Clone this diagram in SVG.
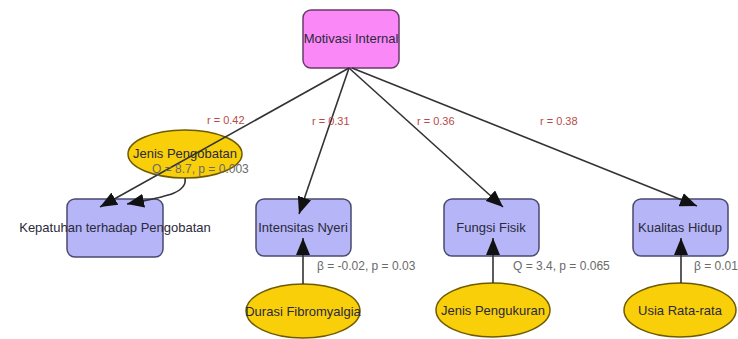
<svg xmlns="http://www.w3.org/2000/svg" width="738" height="339" viewBox="0 0 738 339">
<style>
.box{fill:#b5b5f7;stroke:#4a4a70;stroke-width:1.5}
.top{fill:#fb88f7;stroke:#6a3a6a;stroke-width:1.5}
.ell{fill:#f9cf0a;stroke:#6e5a00;stroke-width:1.5}
.t{font-family:"Liberation Sans",Arial,sans-serif;font-size:13px;fill:#2a2a3a}
.r{font-family:"Liberation Sans",Arial,sans-serif;font-size:11px;fill:#b84a4a}
.s{font-family:"Liberation Sans",Arial,sans-serif;font-size:12px;fill:#6a6a6a}
.c{fill:none;stroke:#333;stroke-width:1.6}
</style>
<defs>
<marker id="ah" markerUnits="userSpaceOnUse" markerWidth="18" markerHeight="14" viewBox="0 0 18 14" refX="17" refY="7" orient="auto">
<path d="M0,0 L17,7 L0,14 Z" fill="#111"/>
</marker>
</defs>
<rect width="738" height="339" fill="#fff"/>
<g id="motivasi">
<rect class="top" x="303" y="10" width="96" height="58" rx="8"/>
<text class="t" x="351" y="43" text-anchor="middle">Motivasi Internal</text>
</g>
<g id="jenis-pengobatan">
<ellipse class="ell" cx="185" cy="154" rx="57" ry="24"/>
<text class="t" x="185" y="158" text-anchor="middle">Jenis Pengobatan</text>
</g>
<g id="kepatuhan">
<rect class="box" x="67" y="199" width="96" height="58" rx="8"/>
<text class="t" x="115" y="232" text-anchor="middle">Kepatuhan terhadap Pengobatan</text>
</g>
<g id="intensitas">
<rect class="box" x="256" y="199" width="95" height="57" rx="8"/>
<text class="t" x="303" y="232" text-anchor="middle">Intensitas Nyeri</text>
</g>
<g id="fungsi">
<rect class="box" x="444" y="199" width="95" height="57" rx="8"/>
<text class="t" x="491" y="232" text-anchor="middle">Fungsi Fisik</text>
</g>
<g id="kualitas">
<rect class="box" x="633" y="199" width="95" height="57" rx="8"/>
<text class="t" x="680" y="232" text-anchor="middle">Kualitas Hidup</text>
</g>
<g id="durasi">
<ellipse class="ell" cx="303" cy="311" rx="57" ry="27"/>
<text class="t" x="303" y="316" text-anchor="middle">Durasi Fibromyalgia</text>
</g>
<g id="jenis-pengukuran">
<ellipse class="ell" cx="493" cy="310" rx="57" ry="27"/>
<text class="t" x="493" y="315" text-anchor="middle">Jenis Pengukuran</text>
</g>
<g id="usia">
<ellipse class="ell" cx="680" cy="310" rx="56" ry="27"/>
<text class="t" x="680" y="315" text-anchor="middle">Usia Rata-rata</text>
</g>
<g id="connectors">
<path class="c" d="M349,68 L100,207" marker-end="url(#ah)"/>
<path class="c" d="M349,68 L299,214" marker-end="url(#ah)"/>
<path class="c" d="M349,68 L503,207" marker-end="url(#ah)"/>
<path class="c" d="M352,68 L697,206" marker-end="url(#ah)"/>
<path class="c" d="M185,178 C188,194 162,197 127,204" marker-end="url(#ah)"/>
<path class="c" d="M303,284 L303,238" marker-end="url(#ah)"/>
<path class="c" d="M493,283 L493,238" marker-end="url(#ah)"/>
<path class="c" d="M681,283 L681,238" marker-end="url(#ah)"/>
<text class="r" x="207" y="124">r = 0.42</text>
<text class="r" x="312" y="125">r = 0.31</text>
<text class="r" x="417" y="125">r = 0.36</text>
<text class="r" x="540" y="125">r = 0.38</text>
<text class="s" x="152" y="173">Q = 8.7, p = 0.003</text>
<text class="s" x="317" y="270">β = -0.02, p = 0.03</text>
<text class="s" x="513" y="270">Q = 3.4, p = 0.065</text>
<text class="s" x="694" y="270">β = 0.01</text>
</g>
</svg>
